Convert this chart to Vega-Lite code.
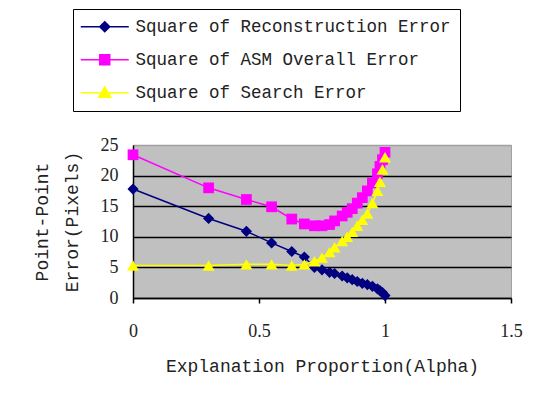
{
  "$schema": "https://vega.github.io/schema/vega-lite/v6.json",
  "width": 378,
  "height": 153,
  "autosize": {"type": "none"},
  "padding": {"left": 133, "top": 145, "right": 34, "bottom": 105},
  "background": "white",
  "config": {
    "view": {"fill": "#c0c0c0", "stroke": "#a0a0a0", "strokeWidth": 1}
  },
  "datasets": {
    "errs": [
      {"alpha": 0, "series": "Square of Reconstruction Error", "value": 17.8},
      {"alpha": 0.3, "series": "Square of Reconstruction Error", "value": 13.0},
      {"alpha": 0.45, "series": "Square of Reconstruction Error", "value": 10.9},
      {"alpha": 0.55, "series": "Square of Reconstruction Error", "value": 9.0},
      {"alpha": 0.63, "series": "Square of Reconstruction Error", "value": 7.6},
      {"alpha": 0.68, "series": "Square of Reconstruction Error", "value": 6.7},
      {"alpha": 0.72, "series": "Square of Reconstruction Error", "value": 5.0},
      {"alpha": 0.75, "series": "Square of Reconstruction Error", "value": 4.6},
      {"alpha": 0.78, "series": "Square of Reconstruction Error", "value": 4.2},
      {"alpha": 0.8, "series": "Square of Reconstruction Error", "value": 4.0},
      {"alpha": 0.83, "series": "Square of Reconstruction Error", "value": 3.6},
      {"alpha": 0.85, "series": "Square of Reconstruction Error", "value": 3.3},
      {"alpha": 0.87, "series": "Square of Reconstruction Error", "value": 3.0},
      {"alpha": 0.89, "series": "Square of Reconstruction Error", "value": 2.7},
      {"alpha": 0.91, "series": "Square of Reconstruction Error", "value": 2.4},
      {"alpha": 0.93, "series": "Square of Reconstruction Error", "value": 2.2},
      {"alpha": 0.95, "series": "Square of Reconstruction Error", "value": 1.9},
      {"alpha": 0.97, "series": "Square of Reconstruction Error", "value": 1.5},
      {"alpha": 0.98, "series": "Square of Reconstruction Error", "value": 1.2},
      {"alpha": 0.99, "series": "Square of Reconstruction Error", "value": 0.9},
      {"alpha": 1.0, "series": "Square of Reconstruction Error", "value": 0.4},
      {"alpha": 0, "series": "Square of ASM Overall Error", "value": 23.4},
      {"alpha": 0.3, "series": "Square of ASM Overall Error", "value": 18.0},
      {"alpha": 0.45, "series": "Square of ASM Overall Error", "value": 16.1},
      {"alpha": 0.55, "series": "Square of ASM Overall Error", "value": 14.9},
      {"alpha": 0.63, "series": "Square of ASM Overall Error", "value": 12.9},
      {"alpha": 0.68, "series": "Square of ASM Overall Error", "value": 12.1},
      {"alpha": 0.72, "series": "Square of ASM Overall Error", "value": 11.8},
      {"alpha": 0.75, "series": "Square of ASM Overall Error", "value": 11.8},
      {"alpha": 0.78, "series": "Square of ASM Overall Error", "value": 12.0},
      {"alpha": 0.8, "series": "Square of ASM Overall Error", "value": 12.6},
      {"alpha": 0.83, "series": "Square of ASM Overall Error", "value": 13.4},
      {"alpha": 0.85, "series": "Square of ASM Overall Error", "value": 14.0},
      {"alpha": 0.87, "series": "Square of ASM Overall Error", "value": 14.6},
      {"alpha": 0.89, "series": "Square of ASM Overall Error", "value": 15.5},
      {"alpha": 0.91, "series": "Square of ASM Overall Error", "value": 16.4},
      {"alpha": 0.93, "series": "Square of ASM Overall Error", "value": 17.5},
      {"alpha": 0.95, "series": "Square of ASM Overall Error", "value": 18.8},
      {"alpha": 0.97, "series": "Square of ASM Overall Error", "value": 20.3},
      {"alpha": 0.98, "series": "Square of ASM Overall Error", "value": 21.5},
      {"alpha": 0.99, "series": "Square of ASM Overall Error", "value": 22.6},
      {"alpha": 1.0, "series": "Square of ASM Overall Error", "value": 23.8},
      {"alpha": 0, "series": "Square of Search Error", "value": 5.3},
      {"alpha": 0.3, "series": "Square of Search Error", "value": 5.3},
      {"alpha": 0.45, "series": "Square of Search Error", "value": 5.5},
      {"alpha": 0.55, "series": "Square of Search Error", "value": 5.5},
      {"alpha": 0.63, "series": "Square of Search Error", "value": 5.3},
      {"alpha": 0.68, "series": "Square of Search Error", "value": 5.5},
      {"alpha": 0.72, "series": "Square of Search Error", "value": 6.0},
      {"alpha": 0.75, "series": "Square of Search Error", "value": 6.6},
      {"alpha": 0.78, "series": "Square of Search Error", "value": 7.5},
      {"alpha": 0.8, "series": "Square of Search Error", "value": 8.3},
      {"alpha": 0.83, "series": "Square of Search Error", "value": 9.3},
      {"alpha": 0.85, "series": "Square of Search Error", "value": 10.0},
      {"alpha": 0.87, "series": "Square of Search Error", "value": 10.8},
      {"alpha": 0.89, "series": "Square of Search Error", "value": 11.8},
      {"alpha": 0.91, "series": "Square of Search Error", "value": 12.8},
      {"alpha": 0.93, "series": "Square of Search Error", "value": 13.8},
      {"alpha": 0.95, "series": "Square of Search Error", "value": 15.5},
      {"alpha": 0.97, "series": "Square of Search Error", "value": 17.5},
      {"alpha": 0.98, "series": "Square of Search Error", "value": 19.0},
      {"alpha": 0.99, "series": "Square of Search Error", "value": 21.0},
      {"alpha": 1.0, "series": "Square of Search Error", "value": 23.0}
    ]
  },
  "data": {"name": "errs"},
  "encoding": {
    "x": {
      "field": "alpha", "type": "quantitative",
      "scale": {"domain": [0, 1.5], "nice": false, "zero": false},
      "axis": {
        "values": [0, 0.5, 1, 1.5], "format": "~g", "grid": false,
        "title": "Explanation Proportion(Alpha)",
        "titleFont": "Liberation Mono", "titleFontSize": 18, "titleFontWeight": "normal", "titleColor": "#222",
        "titlePadding": 17,
        "labelFont": "Liberation Serif", "labelFontSize": 18, "labelColor": "#222", "labelPadding": 19,
        "labelFlush": false,
        "tickSize": 5, "tickColor": "black", "tickWidth": 1.5,
        "domainColor": "black", "domainWidth": 1.5
      }
    },
    "y": {
      "field": "value", "type": "quantitative",
      "scale": {"domain": [0, 25], "nice": false},
      "axis": {
        "values": [0, 5, 10, 15, 20, 25], "grid": true,
        "gridColor": {"condition": {"test": "datum.value == 25", "value": "#a0a0a0"}, "value": "black"},
        "gridWidth": 1.5,
        "ticks": false, "labelPadding": 15,
        "labelFont": "Liberation Serif", "labelFontSize": 18, "labelColor": "#222",
        "domainColor": "black", "domainWidth": 1.5,
        "title": ["Point-Point", "Error(Pixels)"],
        "titleFont": "Liberation Mono", "titleFontSize": 18, "titleFontWeight": "normal", "titleColor": "#222",
        "titleLineHeight": 30, "titlePadding": 19
      }
    },
    "color": {
      "field": "series", "type": "nominal",
      "scale": {
        "domain": ["Square of Reconstruction Error", "Square of ASM Overall Error", "Square of Search Error"],
        "range": ["#000080", "#ff00ff", "#ffff00"]
      },
      "legend": null
    }
  },
  "layer": [
    {
      "mark": {"type": "line"},
      "encoding": {
        "strokeWidth": {
          "field": "series", "type": "nominal",
          "scale": {
            "domain": ["Square of Reconstruction Error", "Square of ASM Overall Error", "Square of Search Error"],
            "range": [1.5, 1.5, 2.2]
          },
          "legend": null
        },
        "color": {
          "field": "series", "type": "nominal",
          "scale": {
            "domain": ["Square of Reconstruction Error", "Square of ASM Overall Error", "Square of Search Error"],
            "range": ["#000080", "#ff00ff", "#ffff00"]
          },
          "legend": {
            "orient": "none", "legendX": -60, "legendY": -136,
            "title": null, "padding": 9,
            "strokeColor": "black", "fillColor": "white",
            "labelFont": "Liberation Mono", "labelFontSize": 17.5, "labelColor": "#222",
            "symbolSize": 100, "symbolOffset": 14, "labelOffset": 22, "rowPadding": 14,
            "symbolStrokeWidth": 1.5, "symbolOpacity": 1,
            "labelLimit": 340,
            "symbolType": {"expr": "datum.value === 'Square of Reconstruction Error' ? 'M-4.8,0H4.8M0,-1L1,0L0,1L-1,0Z' : datum.value === 'Square of ASM Overall Error' ? 'M-4.8,0H4.8M-1,-1H1V1H-1Z' : 'M-4.8,0H4.8M0,-1.2L1.2,0.9H-1.2Z'"},
            "symbolFillColor": {"expr": "scale('color', datum.value)"},
            "symbolStrokeColor": {"expr": "scale('color', datum.value)"}
          }
        }
      }
    },
    {
      "transform": [{"filter": "datum.series === 'Square of Reconstruction Error'"}],
      "mark": {"type": "point", "filled": true, "opacity": 1, "shape": "diamond", "size": 125}
    },
    {
      "transform": [{"filter": "datum.series === 'Square of ASM Overall Error'"}],
      "mark": {"type": "point", "filled": true, "opacity": 1, "shape": "square", "size": 115}
    },
    {
      "transform": [{"filter": "datum.series === 'Square of Search Error'"}],
      "mark": {"type": "point", "filled": true, "opacity": 1, "shape": "triangle-up", "size": 145}
    }
  ]
}
